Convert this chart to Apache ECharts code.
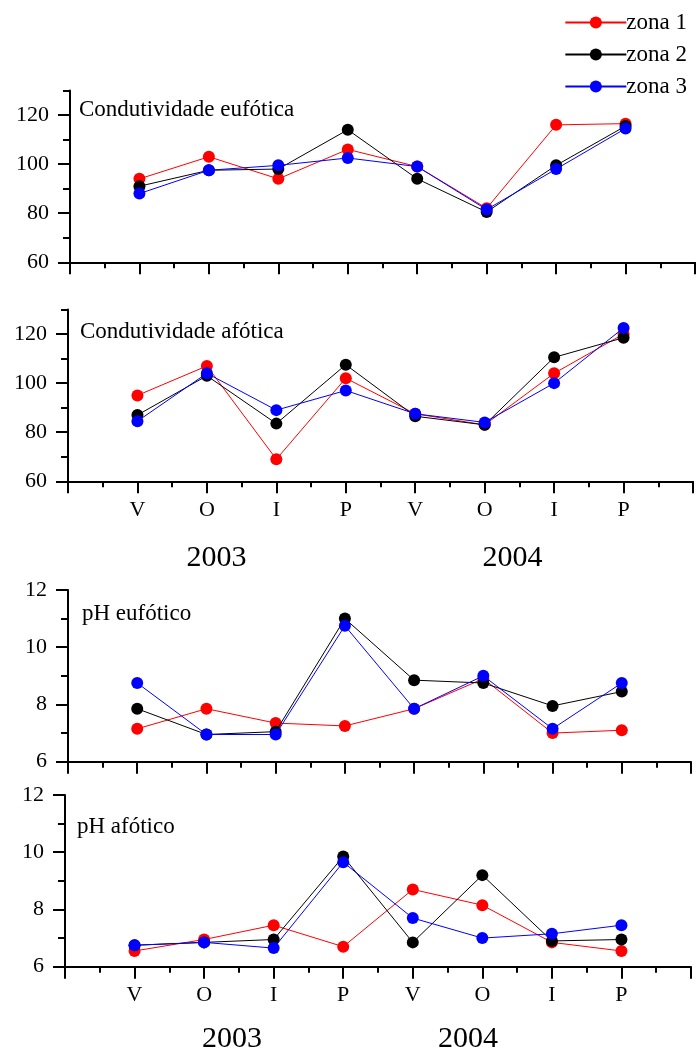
<!DOCTYPE html>
<html>
<head>
<meta charset="utf-8">
<script src="https://cdn.jsdelivr.net/npm/echarts@6/dist/echarts.min.js"></script>
<style>
  html, body { margin: 0; padding: 0; background: #fff; }
  #chart { width: 697px; height: 1053px; }
</style>
</head>
<body>
<div id="chart"></div>
<script>
// Season codes along the x axis (Verão, Outono, Inverno, Primavera), two years
const seasons = ['V', 'O', 'I', 'P', 'V', 'O', 'I', 'P'];
const years = ['2003', '2004'];
const zoneNames = ['zona 1', 'zona 2', 'zona 3'];
const zoneColors = ['#ff0000', '#000000', '#0000ff'];

// Condutividade, zona eufótica
const condEufZona1 = [94, 103, 94, 106, 99, 82, 116, 116.5];
const condEufZona2 = [91, 97.5, 98, 114, 94, 80.5, 99.5, 115.5];
const condEufZona3 = [88, 97.5, 99.5, 102.5, 99, 81.5, 98, 114.5];

// Condutividade, zona afótica
const condAfoZona1 = [95, 107, 69, 102, 87.5, 83, 104, 120];
const condAfoZona2 = [87, 103, 83.5, 107.5, 86.5, 83, 110.5, 118.5];
const condAfoZona3 = [84.5, 104, 89, 97, 87.5, 84, 100, 122.5];

// pH, zona eufótica
const phEufZona1 = [7.15, 7.85, 7.35, 7.25, 7.85, 8.9, 7.0, 7.1];
const phEufZona2 = [7.85, 6.95, 7.05, 11.0, 8.85, 8.75, 7.95, 8.45];
const phEufZona3 = [8.75, 6.95, 6.95, 10.75, 7.85, 9.0, 7.15, 8.75];

// pH, zona afótica
const phAfoZona1 = [6.55, 6.95, 7.45, 6.7, 8.7, 8.15, 6.85, 6.55];
const phAfoZona2 = [6.75, 6.85, 6.95, 9.85, 6.85, 9.2, 6.9, 6.95];
const phAfoZona3 = [6.75, 6.85, 6.65, 9.65, 7.7, 7.0, 7.15, 7.45];

// Y tick labels
const condTicks = [60, 80, 100, 120];
const phTicks = [6, 8, 10, 12];

const panelTitles = ['Condutividade eufótica', 'Condutividade afótica', 'pH eufótico', 'pH afótico'];

const FONT = "'Liberation Serif', 'Times New Roman', serif";

// Layout of the four stacked panels
const panels = [
  { left: 70, right: 2, top: 90.5, height: 171.8, min: 60, max: 130, minor: 10, ticks: condTicks,
    series: [condEufZona1, condEufZona2, condEufZona3], showX: false,
    title: { x: 79, y: 110 } },
  { left: 68, right: 4, top: 309.5, height: 171.8, min: 60, max: 130, minor: 10, ticks: condTicks,
    series: [condAfoZona1, condAfoZona2, condAfoZona3], showX: true,
    title: { x: 80, y: 332 }, years: [{ x: 216.5, y: 558 }, { x: 512.5, y: 558 }] },
  { left: 68, right: 6, top: 590, height: 171.7, min: 6, max: 12, minor: 1, ticks: phTicks,
    series: [phEufZona1, phEufZona2, phEufZona3], showX: false,
    title: { x: 82, y: 614 } },
  { left: 65, right: 6, top: 795, height: 171.7, min: 6, max: 12, minor: 1, ticks: phTicks,
    series: [phAfoZona1, phAfoZona2, phAfoZona3], showX: true,
    title: { x: 77, y: 827 }, years: [{ x: 232, y: 1039 }, { x: 468, y: 1039 }] }
];

const black = { color: '#000', width: 2 };
const grid = [], xAxis = [], yAxis = [], series = [], graphic = [];

panels.forEach((p, i) => {
  grid.push({ left: p.left, right: p.right, top: p.top, height: p.height });

  xAxis.push({
    type: 'value', gridIndex: i, min: 0, max: 9, interval: 1,
    axisLine: { show: true, onZero: false, lineStyle: black },
    axisTick: { show: true, length: 12, lineStyle: black },
    minorTick: { show: true, splitNumber: 2, length: 6, lineStyle: black },
    splitLine: { show: false },
    minorSplitLine: { show: false },
    axisLabel: {
      show: p.showX, margin: 18, fontSize: 22, fontFamily: FONT, color: '#000',
      showMinLabel: true, showMaxLabel: true,
      formatter: v => (v >= 1 && v <= seasons.length) ? seasons[v - 1] : ''
    }
  });

  // short ticks at every minor step, carrying the axis line
  yAxis.push({
    type: 'value', gridIndex: i, position: 'left', min: p.min, max: p.max, interval: p.minor,
    axisLine: { show: true, onZero: false, lineStyle: black },
    axisTick: { show: true, length: 7, lineStyle: black },
    axisLabel: { show: false },
    splitLine: { show: false }
  });
  // long ticks and labels at the major values
  yAxis.push({
    type: 'value', gridIndex: i, position: 'left', min: p.min, max: p.max,
    axisLine: { show: false, onZero: false },
    axisTick: { show: true, length: 12, lineStyle: black, customValues: p.ticks },
    axisLabel: { show: true, margin: 21, fontSize: 22, fontFamily: FONT, color: '#000', customValues: p.ticks },
    splitLine: { show: false }
  });

  p.series.forEach((vals, k) => {
    series.push({
      name: zoneNames[k],
      type: 'line',
      xAxisIndex: i,
      yAxisIndex: 2 * i,
      data: vals.map((v, j) => [j + 1, v]),
      symbol: 'circle',
      symbolSize: 12,
      itemStyle: { color: zoneColors[k] },
      lineStyle: { color: zoneColors[k], width: 1 },
      emphasis: { disabled: true },
      animation: false,
      z: 2 + k
    });
  });

  graphic.push({
    type: 'text', x: p.title.x, y: p.title.y,
    style: { text: panelTitles[i], fontSize: 23, fontFamily: FONT, fill: '#000', align: 'left', verticalAlign: 'middle' }
  });
  if (p.years) {
    p.years.forEach((pos, k) => {
      graphic.push({
        type: 'text', x: pos.x, y: pos.y,
        style: { text: years[k], fontSize: 30, fontFamily: FONT, fill: '#000', align: 'center', verticalAlign: 'middle' }
      });
    });
  }
});

const chart = echarts.init(document.getElementById('chart'), null, { renderer: 'canvas' });
chart.setOption({
  backgroundColor: '#fff',
  animation: false,
  legend: {
    data: zoneNames,
    orient: 'vertical',
    right: 5, top: 6,
    itemWidth: 61, itemHeight: 15, itemGap: 9,
    selectedMode: false,
    textStyle: { fontSize: 23, fontFamily: FONT, color: '#000', padding: [0, 0, 0, -5] }
  },
  grid, xAxis, yAxis, series, graphic
});
</script>
</body>
</html>
